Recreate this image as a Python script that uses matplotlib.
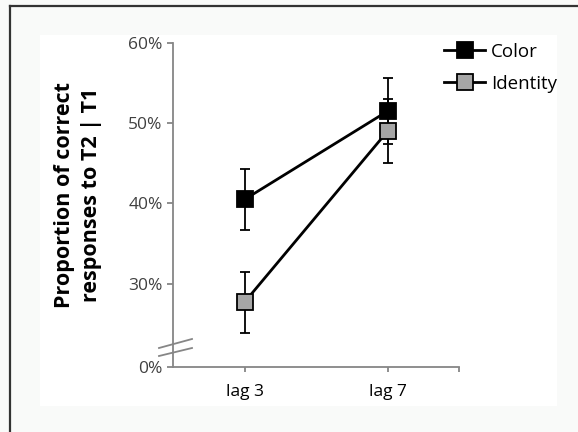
import matplotlib
matplotlib.use("Agg")
import matplotlib.pyplot as plt
from matplotlib.patches import Rectangle
from matplotlib.lines import Line2D

categories = ["lag 3", "lag 7"]
color_vals = [40.5, 51.5]
color_err = [3.8, 4.1]
identity_vals = [27.7, 49.0]
identity_err = [3.8, 4.0]
series_names = ["Color", "Identity"]
ytick_vals = [30, 40, 50, 60]
ytick_labels = ["30%", "40%", "50%", "60%"]
zero_label = "0%"
ylabel = "Proportion of correct\nresponses to T2 | T1"

W, H = 578, 432
plt.rcParams['font.family'] = ['Open Sans', 'DejaVu Sans']
fig = plt.figure(figsize=(W / 100, H / 100), dpi=100)
fig.patch.set_facecolor('#f9faf9')

# inner white panel
fig.patches.append(Rectangle((40 / W, 1 - 406 / H), (557 - 40) / W, (406 - 35) / H,
                             transform=fig.transFigure, facecolor='white',
                             edgecolor='none', zorder=-5))
# outer frame lines (top and left)
fig.lines.append(Line2D([10 / W, 1], [1 - 6 / H, 1 - 6 / H], transform=fig.transFigure,
                        color='#333333', lw=1.6, zorder=-4))
fig.lines.append(Line2D([10 / W, 10 / W], [0, 1 - 6 / H], transform=fig.transFigure,
                        color='#333333', lw=1.6, zorder=-4))

ax = fig.add_axes([173 / W, 1 - 367 / H, (459 - 173) / W, (367 - 43) / H])
ax.set_zorder(2)
ax.set_facecolor('none')

ybot = 30 - 83 / 8.0
x = list(range(len(categories)))

styles = {
    series_names[0]: dict(markerfacecolor='black'),
    series_names[1]: dict(markerfacecolor='#a6a6a6'),
}
common = dict(color='black', lw=2, marker='s', markersize=11,
              markeredgecolor='black', markeredgewidth=1.3)

ax.errorbar(x, identity_vals, yerr=identity_err, ecolor='black',
            elinewidth=1.3, capsize=3.8, capthick=1.3, zorder=3,
            **common, **styles[series_names[1]])
ax.errorbar(x, color_vals, yerr=color_err, ecolor='black',
            elinewidth=1.3, capsize=3.8, capthick=1.3, zorder=2,
            **common, **styles[series_names[0]])

ax.set_xlim(-0.5, 1.5)
ax.set_ylim(ybot, 60)
ax.set_yticks([ybot] + ytick_vals)
ax.set_yticklabels([zero_label] + ytick_labels, fontsize=12.5, color='#404040')
ax.set_xticks(x + [1.5])
ax.set_xticklabels(categories + [""], fontsize=12.5, color='black')

for s in ['top', 'right']:
    ax.spines[s].set_visible(False)
for s in ['left', 'bottom']:
    ax.spines[s].set_color('#868686')
    ax.spines[s].set_linewidth(1.3)
ax.tick_params(axis='y', length=4.5, width=1.3, color='#868686', pad=3)
ax.tick_params(axis='x', length=3.5, width=1.3, color='#868686', pad=9)

ax.set_ylabel(ylabel, fontsize=15.5, fontweight='bold', linespacing=1.4)
ax.yaxis.set_label_coords((102 - 173) / (459 - 173), (367 - 195) / (367 - 43))

# axis break marks
for y0, y1 in [(348, 339), (356, 348)]:
    fig.lines.append(Line2D([159 / W, 192 / W], [1 - y0 / H, 1 - y1 / H],
                            transform=fig.transFigure, color='#868686', lw=1.3, zorder=5))

handles = [Line2D([], [], **common, **styles[n]) for n in series_names]
leg = ax.legend(handles, series_names,
                loc='upper left', bbox_to_anchor=(427 / W, 1 - 26 / H),
                bbox_transform=fig.transFigure, frameon=False, fontsize=13.5,
                handlelength=2.2, handletextpad=0.3, labelspacing=0.75)

fig.savefig("out.png", dpi=100, facecolor=fig.get_facecolor())
